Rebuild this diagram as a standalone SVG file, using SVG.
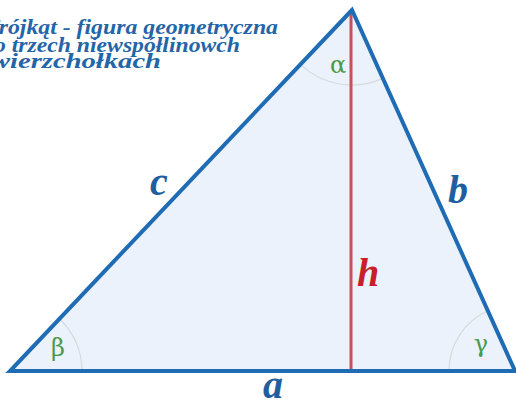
<svg xmlns="http://www.w3.org/2000/svg" width="516" height="403" viewBox="0 0 516 403">
<style>
.title{font-family:"Liberation Serif",serif;font-weight:bold;font-style:italic;font-size:22px;fill:#2465a8}
.lbl{font-family:"Liberation Serif",serif;font-weight:bold;font-style:italic;font-size:40px;fill:#1f5f9f}
.greek{font-family:"DejaVu Serif","Liberation Serif",serif;font-size:24px;fill:#4a9a4a}
.arc{fill:none;stroke:#d3dcdc;stroke-width:1.2}
</style>
<rect width="516" height="403" fill="#ffffff"/>
<g id="title">
<text class="title" x="-15" y="34" textLength="293" lengthAdjust="spacingAndGlyphs">Trójkąt - figura geometryczna</text>
<text class="title" x="-6" y="52" textLength="246" lengthAdjust="spacingAndGlyphs">o trzech niewspółlinowch</text>
<text class="title" x="-9" y="68" textLength="170" lengthAdjust="spacingAndGlyphs">wierzchołkach</text>
</g>
<g id="triangle">
<polygon points="352,10 10,371 515,371" fill="#ebf2fb" stroke="none"/>
</g>
<g id="angles">
<path class="arc" d="M300.4,64.4 A75,75 0 0 0 382.9,78.4"/>
<path class="arc" d="M59.5,318.7 A72,72 0 0 1 82,371"/>
<path class="arc" d="M487.8,310.8 A66,66 0 0 0 449,371"/>
<text class="greek" x="338" y="73" text-anchor="middle">α</text>
<text class="greek" x="58" y="356" text-anchor="middle">β</text>
<text class="greek" x="481" y="352" text-anchor="middle">γ</text>
</g>
<g id="connectors">
<line x1="351" y1="12" x2="351" y2="371" stroke="#c8505a" stroke-width="3"/>
<polygon points="352,10 10,371 515,371" fill="none" stroke="#1f6cb4" stroke-width="4" stroke-linejoin="miter"/>
</g>
<g id="labels">
<text class="lbl" x="159" y="195" text-anchor="middle">c</text>
<text class="lbl" x="458" y="203" text-anchor="middle">b</text>
<text class="lbl" x="368" y="286" text-anchor="middle" style="fill:#c8202a">h</text>
<text class="lbl" x="273" y="398" text-anchor="middle">a</text>
</g>
</svg>
